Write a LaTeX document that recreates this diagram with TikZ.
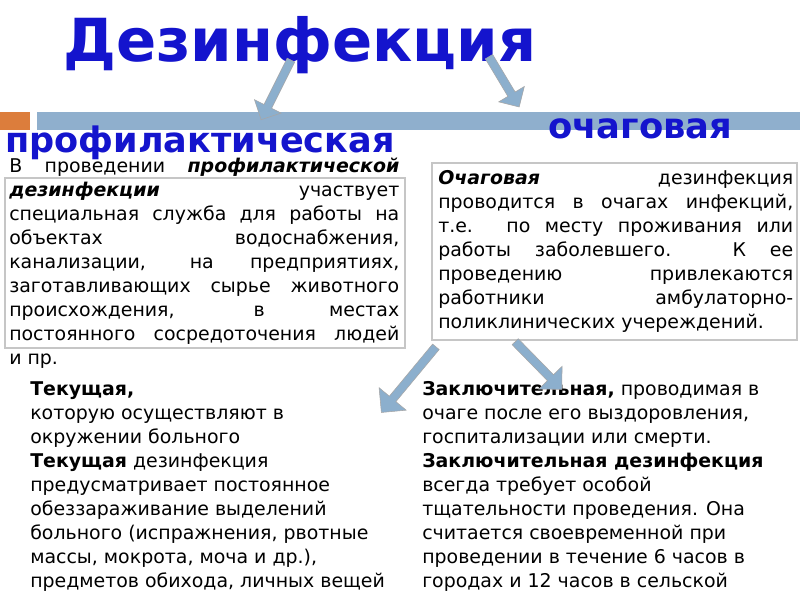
\documentclass[tikz,border=0pt]{standalone}
\usepackage{fontspec}
\setmainfont{DejaVu Sans}
\usetikzlibrary{shapes.arrows}
\definecolor{ttl}{RGB}{20,20,205}
\definecolor{bar}{RGB}{143,175,205}
\definecolor{org}{RGB}{220,125,60}
\definecolor{arr}{RGB}{140,175,205}
\newcommand{\jl}[1]{\makebox[390\px][s]{#1}\\}
\newcommand{\jr}[1]{\makebox[355\px][s]{#1}\\}
\newlength{\px}\setlength{\px}{0.75pt}
\tikzset{
  blk/.style={single arrow, fill=arr, draw=gray!70, single arrow head extend=8pt, minimum width=17pt, inner sep=3pt},
  body/.style={anchor=north west, inner sep=0pt, align=left, font=\fontsize{14.2}{18}\selectfont},
  box/.style={draw=gray!45, line width=1.2pt}
}
\begin{document}
\begin{tikzpicture}[x=0.75pt,y=-0.75pt]
\useasboundingbox[fill=white] (0,0) rectangle (800,600);
\fill[org] (0,112) rectangle (30,130);
\fill[bar] (37,112) rectangle (800,130);
\node[font=\fontsize{44.5}{50}\bfseries\selectfont, text=ttl, inner sep=0pt] (title) at (300,45) {Дезинфекция};
\node[font=\fontsize{26.3}{28}\bfseries\selectfont, text=ttl, inner sep=0pt, anchor=west] (prof) at (5,143) {профилактическая};
\node[font=\fontsize{26.5}{28}\bfseries\selectfont, text=ttl, inner sep=0pt, anchor=west] (och) at (548,129) {очаговая};
\draw[box] (5,178) rectangle (405,348);
\draw[box] (432,163) rectangle (797,340);
\node[body] (lt) at (9,158) {\jl{В проведении \textbf{\textit{профилактической}}}
\jl{\textbf{\textit{дезинфекции}} участвует}
\jl{специальная служба для работы на}
\jl{объектах водоснабжения,}
\jl{канализации, на предприятиях,}
\jl{заготавливающих сырье животного}
\jl{происхождения, в местах}
\jl{постоянного сосредоточения людей}
и пр.};
\node[body] (rt) at (438,170) {\jr{\textbf{\textit{Очаговая}} дезинфекция}
\jr{проводится в очагах инфекций,}
\jr{т.е. по месту проживания или}
\jr{работы заболевшего. К ее}
\jr{проведению привлекаются}
\jr{работники амбулаторно-}
поликлинических учереждений.};
\node[body] (lb) at (30,381) {\textbf{Текущая,}\\
которую осуществляют в\\
окружении больного\\
\textbf{Текущая} дезинфекция\\
предусматривает постоянное\\
обеззараживание выделений\\
больного (испражнения, рвотные\\
массы, мокрота, моча и др.),\\
предметов обихода, личных вещей};
\node[body] (rb) at (422,381) {\textbf{Заключительная,} проводимая в\\
очаге после его выздоровления,\\
госпитализации или смерти.\\
\textbf{Заключительная дезинфекция}\\
всегда требует особой\\
тщательности проведения. Она\\
считается своевременной при\\
проведении в течение 6 часов в\\
городах и 12 часов в сельской};
\node[blk, minimum height=50pt, rotate=-116.6] (a1) at (277,88) {};
\node[blk, minimum height=44pt, rotate=-59] (a2) at (503,80) {};
\node[blk, minimum height=64pt, minimum width=21pt, single arrow head extend=10pt, rotate=-129.7] (a3) at (410,378) {};
\node[blk, minimum height=50pt, minimum width=21pt, single arrow head extend=9pt, rotate=-45.6] (a4) at (537,364) {};
\end{tikzpicture}
\end{document}
